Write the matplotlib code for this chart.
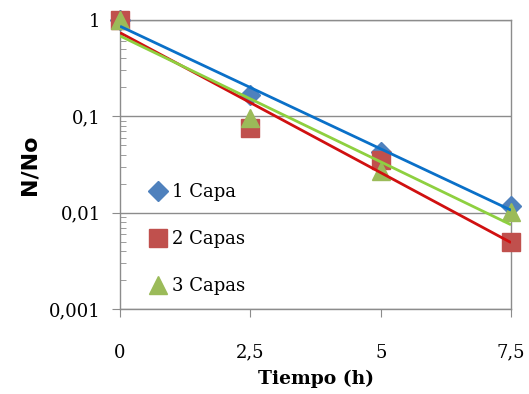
import numpy as np
import matplotlib
matplotlib.use('Agg')
import matplotlib.pyplot as plt
from matplotlib.ticker import FixedLocator, LogLocator, NullFormatter

# data
tiempo = [0, 2.5, 5, 7.5]
capa1 = [1.0, 0.165, 0.043, 0.0118]
capa2 = [1.0, 0.076, 0.035, 0.0049]
capa3 = [1.0, 0.096, 0.027, 0.0101]
xticks = [0, 2.5, 5, 7.5]
xtick_labels = ['0', '2,5', '5', '7,5']
yticks = [0.001, 0.01, 0.1, 1]
ytick_labels = ['0,001', '0,01', '0,1', '1']

fig = plt.figure(figsize=(5.29, 3.94), dpi=100)
ax = fig.add_axes([0.227, 0.216, 0.739, 0.733])

series = [
    ('1 Capa', capa1, 'D', '#4F81BD', '#0A70C8', 10),
    ('2 Capas', capa2, 's', '#C0504D', '#D01010', 13),
    ('3 Capas', capa3, '^', '#9BBB59', '#8ED040', 13),
]

xfit = np.array([0, 7.5])
for name, vals, mk, mcol, lcol, ms in series:
    ax.plot(tiempo, vals, linestyle='none', marker=mk, color=mcol,
            markersize=ms, label=name, clip_on=False, zorder=3)
    # exponential trend line (least squares in log space)
    b, a = np.polyfit(tiempo, np.log10(vals), 1)
    ax.plot(xfit, 10 ** (a + b * xfit), color=lcol, lw=2, zorder=4,
            solid_capstyle='butt')

ax.set_yscale('log')
ax.set_xlim(0, 7.5)
ax.set_ylim(0.001, 1)

ax.yaxis.set_major_locator(FixedLocator(yticks))
ax.set_yticklabels(ytick_labels)
ax.yaxis.set_minor_locator(LogLocator(base=10, subs=np.arange(2, 10)))
ax.yaxis.set_minor_formatter(NullFormatter())
ax.set_xticks(xticks)
ax.set_xticklabels(xtick_labels)

gray = '#8C8C8C'
ax.grid(axis='y', which='major', color=gray, lw=1)
for s in ax.spines.values():
    s.set_color(gray)
    s.set_linewidth(1)

serif = 'DejaVu Serif'
ax.tick_params(axis='y', which='major', direction='out', length=6, color=gray,
               labelsize=13, pad=8, labelfontfamily=serif)
ax.tick_params(axis='y', which='minor', direction='in', length=4, color=gray)
ax.tick_params(axis='x', direction='out', length=6, color=gray,
               labelsize=13, pad=19, labelfontfamily=serif)

ax.set_xlabel('Tiempo (h)', fontfamily=serif, fontweight='bold', fontsize=13.5,
              labelpad=6)
ax.set_ylabel('N/No', fontfamily='DejaVu Sans', fontweight='bold', fontsize=16,
              labelpad=7)

leg = ax.legend(loc='upper left', bbox_to_anchor=(0.06, 0.46), frameon=False,
                prop={'family': serif, 'size': 13}, handlelength=0.8,
                handletextpad=0.4, labelspacing=1.6, borderaxespad=0)

fig.savefig('out.png', dpi=100)
